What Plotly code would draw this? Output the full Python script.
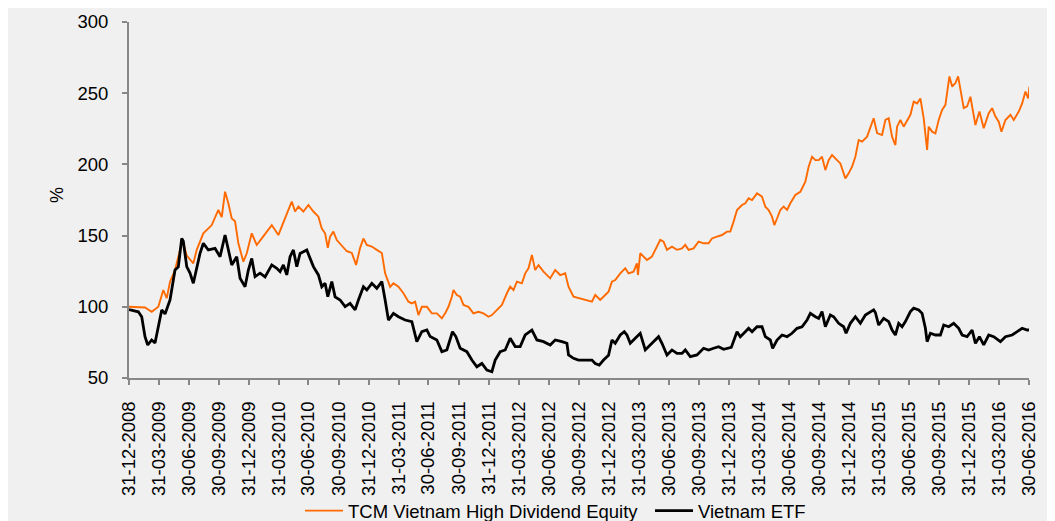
import pandas as pd
import plotly.graph_objects as go

# ---- data ----
start_date = "2008-12-31"

tcm_months = [0, 0.8, 1.6, 2.27, 2.93, 3.43, 3.77, 4.1, 4.6, 5.1, 5.33, 5.77, 6.43, 6.77, 7.43, 8.27, 8.93,
              9.27, 9.6, 9.93, 10.27, 10.6, 10.93, 11.43, 11.77, 12.27, 12.77, 13.27, 14.27, 14.93, 15.43,
              15.93, 16.27, 16.6, 16.93, 17.43, 17.93, 18.43, 18.93, 19.27, 19.6, 19.87, 20.1, 20.43, 20.77,
              21.27, 21.77, 22.27, 22.7, 23.1, 23.43, 23.77, 24.27, 24.77, 25.27, 25.6, 26.1, 26.43, 26.93,
              27.43, 27.93, 28.27, 28.6, 28.93, 29.27, 29.77, 30.27, 30.77, 31.27, 31.6, 31.93, 32.27, 32.43,
              32.77, 33.1, 33.43, 33.93, 34.43, 34.93, 35.43, 35.93, 36.27, 36.77, 37.27, 37.77, 38.1, 38.43,
              38.77, 39.27, 39.6, 39.93, 40.27, 40.6, 40.93, 41.43, 42.1, 42.6, 43.1, 43.6, 43.93, 44.43,
              45.1, 45.77, 46.27, 46.6, 47.1, 47.6, 47.93, 48.27, 48.6, 49.1, 49.6, 49.93, 50.43, 50.77,
              50.87, 51.1, 51.43, 51.77, 52.27, 52.77, 53.1, 53.43, 53.77, 54.27, 54.77, 55.27, 55.6, 55.93,
              56.43, 56.93, 57.43, 57.93, 58.27, 58.77, 59.27, 59.77, 60.1, 60.43, 60.77, 61.27, 61.6, 61.93,
              62.27, 62.77, 63.27, 63.6, 63.93, 64.27, 64.5, 64.77, 65.1, 65.43, 65.77, 66.1, 66.6, 67.1,
              67.6, 67.93, 68.27, 68.6, 68.93, 69.27, 69.6, 69.93, 70.27, 70.77, 71.1, 71.6, 71.93, 72.27,
              72.6, 72.93, 73.27, 73.77, 74.1, 74.43, 74.77, 75.27, 75.6, 75.93, 76.27, 76.6, 76.77, 77.1,
              77.43, 77.77, 78.1, 78.43, 78.77, 79.1, 79.43, 79.77, 79.93, 80.27, 80.6, 80.93, 81.27, 81.6,
              81.77, 82.0, 82.27, 82.6, 82.87, 83.1, 83.43, 83.77, 84.1, 84.33, 84.6, 85.0, 85.43, 85.93,
              86.27, 86.6, 86.93, 87.2, 87.6, 88.1, 88.43, 88.93, 89.27, 89.6, 89.87, 90.0]
tcm_values = [100, 99.8, 99.5, 96.5, 100, 111.8, 106, 117.6, 125.8, 139.9, 147, 136, 130.5, 140, 151.6, 157.4, 168,
              163, 180.8, 172.7, 162, 160, 144.6, 131.7, 137.6, 151.6, 143.4, 148, 157.4, 150.4, 159.8,
              168, 173.9, 166.9, 170.4, 166.9, 171.5, 166.9, 163.3, 155, 151.6, 141.4, 149.3, 152.8, 146.9,
              142.6, 139, 137.8, 129.4, 141.4, 148, 143.5, 142.3, 140, 137.8, 123.5, 114, 116.5, 114.1,
              109.5, 103.6, 102.4, 103.6, 94.2, 100, 100, 95.4, 95.4, 91.9, 95.4, 100, 107.1, 111.8,
              108.3, 107.1, 101.3, 100, 95.4, 96.5, 95.4, 93, 94.2, 97.7, 101.3, 109.5, 114.1, 111.8,
              117.7, 116.5, 123.5, 127, 136.4, 125.8, 129.3, 124.7, 120, 125.8, 122.3, 123.5, 114.1, 107.1,
              105.9, 104.8, 103.6, 108.3, 104.8, 108.3, 110.6, 117.6, 118.8, 123.5, 127, 123.5, 124.7, 130.5,
              122.3, 137.6, 135.3, 132.9, 135.3, 142.2, 147, 145.8, 140, 142.2, 140, 141, 143.5, 140,
              141, 145.8, 144.6, 144.6, 148, 149.3, 150.4, 152.8, 152.8, 159.8, 168, 171.5, 172.7, 176.2,
              175, 179.7, 177.4, 170.3, 168, 163.3, 157.4, 162, 168, 170.3, 168, 172.7, 178.5, 180.8,
              187.9, 198.4, 205.4, 203, 203, 205.4, 196, 203, 206.6, 203, 200.7, 190.2, 193.7, 198.4,
              205.4, 217.1, 216, 219.5, 226.5, 232.4, 222, 220.6, 231.2, 232.4, 219.5, 213.6, 226.5, 231.2,
              226.5, 231.2, 234.8, 244, 242.8, 246.3, 232.4, 210.1, 226.5, 223, 221.8, 231.2, 238.3, 241.8,
              251.2, 261.8, 254.7, 257.1, 261.8, 252.4, 239.5, 240.7, 247.5, 238.3, 227.7, 237.1, 225.4, 235.9,
              239.5, 233.6, 230, 223, 231.2, 234.8, 231.2, 237.1, 242.8, 251.2, 246.3, 254.7]

etf_months = [0, 0.93, 1.27, 1.6, 1.87, 2.27, 2.6, 2.93, 3.27, 3.6, 4.1, 4.6, 4.93, 5.27, 5.43, 5.77, 6.1,
              6.43, 6.77, 7.1, 7.43, 7.93, 8.6, 9.1, 9.6, 9.93, 10.27, 10.77, 11.1, 11.6, 11.93, 12.27, 12.6,
              13.1, 13.6, 14.27, 14.77, 15.1, 15.43, 15.77, 16.1, 16.43, 16.77, 17.1, 17.77, 18.1, 18.43,
              18.93, 19.27, 19.6, 19.87, 20.27, 20.6, 21.1, 21.6, 22.1, 22.6, 22.93, 23.43, 23.77, 24.27,
              24.77, 25.27, 25.6, 25.93, 26.43, 26.93, 27.6, 28.27, 28.77, 29.27, 29.77, 30.1, 30.77, 31.27,
              31.77, 32.1, 32.33, 32.67, 33.1, 33.77, 34.27, 34.77, 35.27, 35.77, 36.27, 36.6, 37.1, 37.6,
              38.1, 38.6, 39.1, 39.6, 40.27, 40.77, 41.43, 42.1, 42.6, 43.27, 43.77, 43.93, 44.43, 44.93,
              45.6, 46.27, 46.6, 47.0, 47.43, 47.93, 48.27, 48.6, 49.1, 49.5, 49.77, 50.1, 50.6, 51.1,
              51.6, 52.1, 52.6, 52.93, 53.27, 53.77, 54.27, 54.77, 55.27, 55.6, 56.1, 56.77, 57.43, 57.93,
              58.43, 58.93, 59.43, 60.2, 60.77, 61.1, 61.6, 61.93, 62.27, 62.77, 63.27, 63.6, 64.1, 64.33,
              64.77, 65.27, 65.77, 66.27, 66.77, 67.27, 67.77, 68.1, 68.6, 68.93, 69.27, 69.6, 70.1, 70.43,
              70.93, 71.43, 71.67, 72.1, 72.6, 73.1, 73.6, 74.1, 74.43, 74.6, 74.93, 75.43, 75.93, 76.27,
              76.6, 76.93, 77.27, 77.6, 78.1, 78.43, 78.93, 79.27, 79.6, 79.77, 80.1, 80.6, 81.1, 81.43,
              81.93, 82.43, 82.93, 83.27, 83.77, 84.27, 84.6, 85.0, 85.43, 85.93, 86.43, 87.1, 87.6, 88.27,
              88.77, 89.27, 89.77, 90.0]
etf_values = [98, 96.5, 93, 79, 73.2, 76.7, 74.6, 86, 97.8, 95, 104.8, 125.8, 128, 148, 146, 128.2, 123.7,
              116.5, 128, 137.6, 144.6, 139.9, 141, 135.2, 150.4, 139.9, 129.4, 135.2, 120, 114.1, 125.8, 134, 121.2,
              123.6, 121, 129.4, 127, 124.7, 129.4, 122.4, 135.2, 139.9, 128.2, 137.5, 139.9, 134, 128.2,
              122.4, 114.1, 116.5, 107.1, 117.7, 107, 104.8, 100.1, 102.4, 97.8, 104.8, 114.1, 111.8, 116.5,
              113, 117.7, 104.8, 90.7, 95.4, 93, 90.7, 89.5, 75.5, 82.6, 83.8, 79.1, 76.7, 68.5,
              69.7, 76.7, 82.5, 79.1, 70.9, 68.5, 62.6, 57.9, 60.2, 55.6, 54.4, 62.6, 68.5, 69.7,
              77.9, 72.1, 72.1, 80.3, 83.7, 76.7, 75.5, 73.2, 76.7, 75.5, 74.4, 66.2, 63.8, 62.6,
              62.6, 62.6, 60.2, 59.1, 62.6, 66, 76.7, 74.4, 80.2, 82.5, 80.2, 74.4, 77.9, 81.4,
              69.7, 73.2, 76.7, 79, 74.4, 66.2, 69.7, 67.3, 67.3, 69.7, 65, 66.2, 70.9, 69.7,
              70.9, 72, 70.2, 71.5, 82.5, 79, 82.5, 84.9, 82.5, 86, 86, 79, 76.7, 70.8,
              76.7, 80.2, 79, 81.4, 84.9, 86, 90.7, 95.4, 93, 91.9, 96.6, 86, 94.2, 93,
              88.4, 86, 81.4, 88.4, 93, 88.4, 94.2, 96.6, 97.8, 96, 87.2, 91.9, 89.6, 83.7,
              80.2, 88.4, 86, 89.6, 96.6, 99, 97.8, 95.4, 84.9, 75.5, 81.4, 80.2, 80.2, 87.2,
              86, 88.4, 84.9, 80.2, 79, 83.7, 74.3, 79, 73.2, 80.2, 79, 75.5, 79, 80.2,
              82.5, 84.9, 83.7, 83.7]

tick_labels = ["31-12-2008", "31-03-2009", "30-06-2009", "30-09-2009", "31-12-2009", "31-03-2010",
               "30-06-2010", "30-09-2010", "31-12-2010", "31-03-2011", "30-06-2011", "30-09-2011",
               "31-12-2011", "31-03-2012", "30-06-2012", "30-09-2012", "31-12-2012", "31-03-2013",
               "30-06-2013", "30-09-2013", "31-12-2013", "31-03-2014", "30-06-2014", "30-09-2014",
               "31-12-2014", "31-03-2015", "30-06-2015", "30-09-2015", "31-12-2015", "31-03-2016",
               "30-06-2016"]
y_ticks = [50, 100, 150, 200, 250, 300]

series_names = ["TCM Vietnam High Dividend Equity", "Vietnam ETF"]
series_colors = ["#ff6a00", "#000000"]

# ---- build ----
t0 = pd.Timestamp(start_date)
def to_dates(months):
    return [t0 + pd.Timedelta(days=m * 30.4375) for m in months]

tick_dates = [pd.to_datetime(s, format="%d-%m-%Y") for s in tick_labels]

FONT = "Liberation Sans, Arial, sans-serif"
fig = go.Figure()
fig.add_trace(go.Scatter(x=to_dates(tcm_months), y=tcm_values, mode="lines",
                         name=series_names[0], line=dict(color=series_colors[0], width=1.9)))
fig.add_trace(go.Scatter(x=to_dates(etf_months), y=etf_values, mode="lines",
                         name=series_names[1], line=dict(color=series_colors[1], width=2.8)))

fig.update_layout(
    width=1047, height=513,
    margin=dict(l=121, r=26, t=14, b=143, autoexpand=False),
    paper_bgcolor="#f0f0f0",
    plot_bgcolor="#f0f0f0",
    font=dict(family=FONT, size=18, color="#000000"),
    showlegend=True,
    legend=dict(orientation="h", x=0.19, xanchor="left", y=-0.374, yanchor="middle",
                bgcolor="rgba(0,0,0,0)", font=dict(size=18.5, color="#000000"),
                itemwidth=38, entrywidth=297, entrywidthmode="pixels",
                tracegroupgap=0, borderwidth=0),
    annotations=[dict(text="%", x=-0.08, y=0.514, xref="paper", yref="paper", showarrow=False,
                      xanchor="center", yanchor="middle",
                      textangle=-90, font=dict(size=18, color="#000000"))],
)
fig.update_xaxes(
    type="date", range=[tick_dates[0], tick_dates[-1]], automargin=False,
    tickmode="array", tickvals=tick_dates, ticktext=tick_labels, tickangle=-90,
    showgrid=False, zeroline=False, showline=True, linecolor="#878787", linewidth=2,
    ticks="outside", ticklen=5, tickcolor="#878787", tickwidth=1.5,
    tickfont=dict(size=18.5, color="#000000"), ticklabelstandoff=9,
)
fig.update_yaxes(
    range=[50, 300], tickmode="array", tickvals=y_ticks, automargin=False,
    showgrid=False, zeroline=False, showline=True, linecolor="#878787", linewidth=2,
    ticks="outside", ticklen=5, tickcolor="#878787", tickwidth=1.5,
    tickfont=dict(size=18.5, color="#000000"), ticklabelstandoff=10,
)
fig.write_html("out.html")
